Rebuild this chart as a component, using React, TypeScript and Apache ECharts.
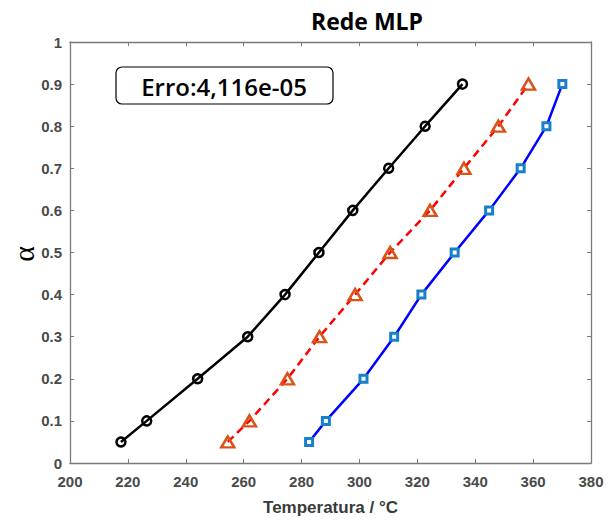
import React, { useEffect, useRef } from "react";
import * as echarts from "echarts";

const alphaLevels = [0.05, 0.1, 0.2, 0.3, 0.4, 0.5, 0.6, 0.7, 0.8, 0.9];
const tempCircle = [217.6, 226.5, 244.1, 261.4, 274.3, 286.0, 297.7, 310.1, 322.7, 335.6];
const tempTriangle = [254.5, 262.0, 275.1, 286.2, 298.5, 310.6, 324.4, 336.1, 348.0, 358.4];
const tempSquare = [282.6, 288.4, 301.4, 312.0, 321.4, 332.9, 344.8, 355.7, 364.6, 370.1];

const titleText = "Rede MLP";
const errorText = "Erro:4,116e-05";
const xName = "Temperatura / °C";
const yName = "α";

const pair = (xs: number[]) => xs.map((t, i) => [t, alphaLevels[i]]);

export default function App() {
  const ref = useRef<HTMLDivElement>(null);
  useEffect(() => {
    document.body.style.margin = "0";
    const chart = echarts.init(ref.current!, null, { renderer: "svg" });
    const axisColor = "#7a7a7a";
    const labelColor = "#4a4a4a";
    const labelFont = {
      color: labelColor,
      fontFamily: "Liberation Sans, Arial, sans-serif",
      fontWeight: "bold" as const,
      fontSize: 15,
    };
    chart.setOption({
      animation: false,
      backgroundColor: "#ffffff",
      grid: { left: 70, top: 42, right: 23, bottom: 56, containLabel: false },
      xAxis: [
        {
          type: "value",
          min: 200,
          max: 380,
          interval: 20,
          position: "bottom",
          axisLine: { show: true, onZero: false, lineStyle: { color: axisColor, width: 1.3 } },
          axisTick: { show: true, inside: true, length: 4, lineStyle: { color: axisColor } },
          axisLabel: { ...labelFont, margin: 11 },
          splitLine: { show: false },
          name: xName,
          nameLocation: "middle",
          nameGap: 36,
          nameTextStyle: {
            color: "#3a3a3a",
            fontFamily: "Liberation Sans, Arial, sans-serif",
            fontWeight: "bold",
            fontSize: 17,
          },
        },
        {
          type: "value",
          min: 200,
          max: 380,
          interval: 20,
          position: "top",
          axisLine: { show: true, onZero: false, lineStyle: { color: axisColor, width: 1.3 } },
          axisTick: { show: true, inside: true, length: 4, lineStyle: { color: axisColor } },
          axisLabel: { show: false },
          splitLine: { show: false },
        },
      ],
      yAxis: [
        {
          type: "value",
          min: 0,
          max: 1,
          interval: 0.1,
          position: "left",
          axisLine: { show: true, onZero: false, lineStyle: { color: axisColor, width: 1.3 } },
          axisTick: { show: true, inside: true, length: 4, lineStyle: { color: axisColor } },
          axisLabel: {
            ...labelFont,
            margin: 8,
            formatter: (v: number) => String(parseFloat(v.toFixed(1))),
          },
          splitLine: { show: false },
        },
        {
          type: "value",
          min: 0,
          max: 1,
          interval: 0.1,
          position: "right",
          axisLine: { show: true, onZero: false, lineStyle: { color: axisColor, width: 1.3 } },
          axisTick: { show: true, inside: true, length: 4, lineStyle: { color: axisColor } },
          axisLabel: { show: false },
          splitLine: { show: false },
        },
      ],
      series: [
        {
          type: "line",
          data: pair(tempCircle),
          symbol: "circle",
          symbolSize: 9,
          itemStyle: { color: "rgba(0,0,0,0)", borderColor: "#000000", borderWidth: 2.5 },
          lineStyle: { color: "#000000", width: 2.5 },
          z: 3,
        },
        {
          type: "line",
          data: pair(tempTriangle),
          symbol: "triangle",
          symbolSize: [13, 11],
          itemStyle: { color: "rgba(0,0,0,0)", borderColor: "#D95319", borderWidth: 2.5 },
          lineStyle: { color: "#FF0000", width: 2.5, type: [8, 5] },
          z: 3,
        },
        {
          type: "line",
          data: pair(tempSquare),
          symbol: "rect",
          symbolSize: 7,
          itemStyle: { color: "#ffffff", borderColor: "#1780C8", borderWidth: 3 },
          lineStyle: { color: "#0000FF", width: 2.5 },
          z: 3,
        },
      ],
      graphic: [
        {
          type: "text",
          x: 367,
          y: 21,
          style: {
            text: titleText,
            x: 0,
            y: 0,
            align: "center",
            verticalAlign: "middle",
            fill: "#000000",
            fontFamily: "Open Sans, sans-serif",
            fontWeight: "bold",
            fontSize: 23,
          },
        },
        {
          type: "rect",
          shape: { x: 116, y: 67, width: 217, height: 37, r: 6 },
          style: { fill: "#ffffff", stroke: "#000000", lineWidth: 1.2 },
          z: 10,
        },
        {
          type: "text",
          x: 224,
          y: 86,
          z: 11,
          style: {
            text: errorText,
            align: "center",
            verticalAlign: "middle",
            fill: "#000000",
            fontFamily: "Open Sans, sans-serif",
            fontWeight: 600,
            fontSize: 24,
          },
        },
        {
          type: "text",
          x: 23,
          y: 254,
          rotation: Math.PI / 2,
          style: {
            text: yName,
            align: "center",
            verticalAlign: "middle",
            fill: "#000000",
            fontFamily: "Liberation Serif, serif",
            fontSize: 30,
          },
        },
      ],
    });
    return () => chart.dispose();
  }, []);
  return <div ref={ref} style={{ width: 614, height: 521 }} />;
}
